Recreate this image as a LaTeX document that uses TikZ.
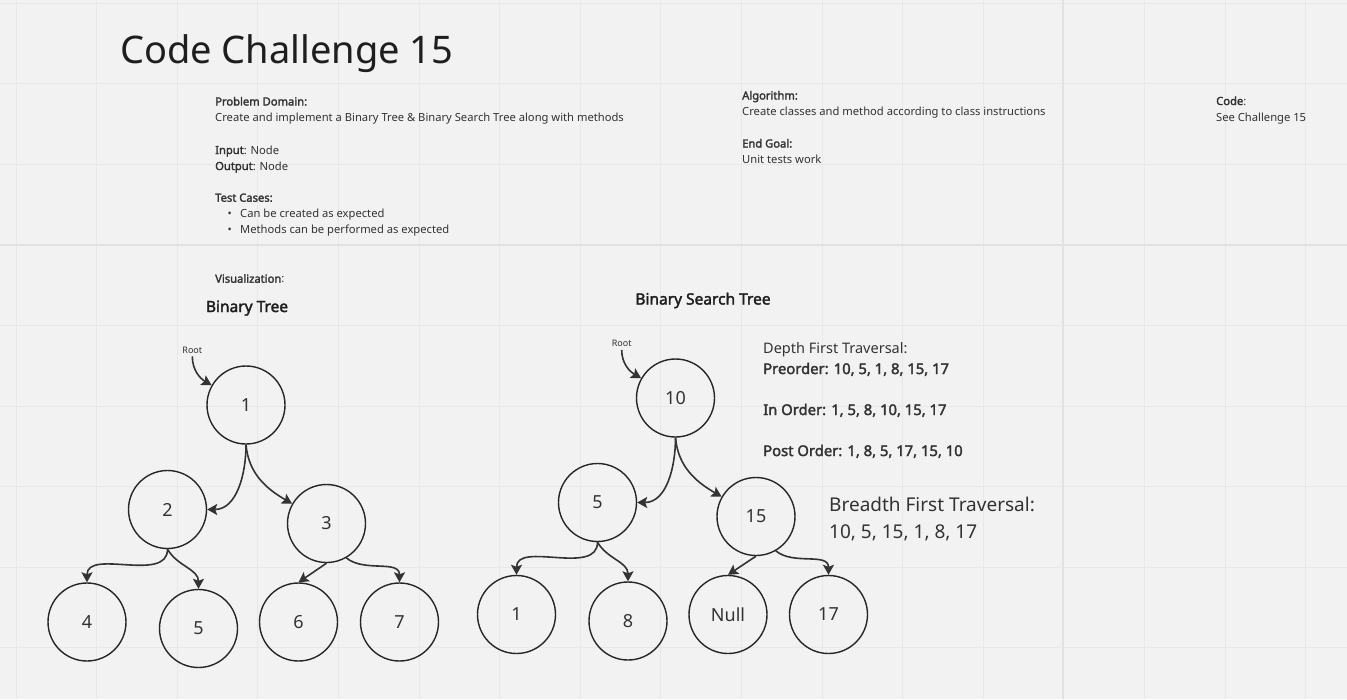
\documentclass[tikz,border=0pt]{standalone}
\usepackage{fontspec}
\setmainfont{Noto Sans}[AutoFakeBold=2.2]
\usetikzlibrary{arrows.meta}

\definecolor{boardbg}{HTML}{F2F2F2}
\definecolor{gridline}{HTML}{E8E8E8}
\definecolor{gridmajor}{HTML}{E2E2E2}
\definecolor{ink}{HTML}{333333}
\definecolor{titleink}{HTML}{1E1E1E}

\begin{document}
\begin{tikzpicture}[x=1pt, y=1pt,
    note/.style={anchor=base west, inner sep=0pt, text=ink, font=\fontsize{11.2}{13}\selectfont},
    trav/.style={note, font=\fontsize{14.5}{17}\selectfont},
    travbold/.style={note, font=\fontsize{14.8}{17}\selectfont\bfseries},
    treenode/.style={circle, draw=black!85, line width=1.4pt, minimum size=78pt, inner sep=0pt, text=ink, font=\fontsize{18}{21}\selectfont},
    rootlabel/.style={anchor=base, inner sep=3pt, text=ink, font=\fontsize{9}{11}\selectfont},
    treetitle/.style={anchor=base, inner sep=0pt, text=titleink, font=\fontsize{15.5}{18}\selectfont\bfseries},
    link/.style={draw=ink, line width=1.6pt, -{Stealth[length=10pt, width=11pt, inset=2pt]}}]
    % board and grid
    \fill[boardbg] (0,0) rectangle (1347,-699);
    \useasboundingbox (0,0) rectangle (1347,-699);
    \foreach \gx in {0,...,16}
      \draw[gridline, line width=1pt] ({16+80.6*\gx},0) -- ++(0,-699);
    \foreach \gy in {0,...,8}
      \draw[gridline, line width=1pt] (0,{-3-80.6*\gy}) -- ++(1347,0);
    \draw[gridmajor, line width=1.6pt] (1063,0) -- ++(0,-699);
    \draw[gridmajor, line width=1.6pt] (0,-245) -- ++(1347,0);

    \node[note, font=\fontsize{38}{44}\selectfont, text=titleink] (title) at (120,-63.3) {Code Challenge 15};

    % problem column
    \node[note] (pdhead) at (215,-105.5) {\textbf{Problem Domain:}};
    \node[note] (pdtext) at (215,-121.5) {Create and implement a Binary Tree \& Binary Search Tree along with methods};
    \node[note] (input) at (215,-154) {\textbf{Input}: Node};
    \node[note] (output) at (215,-170) {\textbf{Output}: Node};
    \node[note] (tchead) at (215,-201.7) {\textbf{Test Cases:}};
    \node[note] (tcone) at (227.5,-217.3) {\makebox[12.5pt][l]{\textbullet}Can be created as expected};
    \node[note] (tctwo) at (227.5,-233.7) {\makebox[12.5pt][l]{\textbullet}Methods can be performed as expected};
    \node[note] (vis) at (215,-282.7) {\textbf{Visualization}:};

    % algorithm and code columns
    \node[note] (alghead) at (742,-99.5) {\textbf{Algorithm:}};
    \node[note] (algtext) at (742,-115) {Create classes and method according to class instructions};
    \node[note] (goalhead) at (742,-147.5) {\textbf{End Goal:}};
    \node[note] (goaltext) at (742,-163) {Unit tests work};
    \node[note] (codehead) at (1216,-105) {\textbf{Code}:};
    \node[note] (codetext) at (1216,-121) {See Challenge 15};

    % binary tree
    \node[treetitle] (bttitle) at (247,-312) {Binary Tree};
    \node[rootlabel] (broot) at (192.3,-353) {Root};
    \node[treenode] (b1) at (246,-405) {1};
    \node[treenode] (b2) at (167.5,-509.5) {2};
    \node[treenode] (b3) at (326.5,-523.5) {3};
    \node[treenode] (b4) at (87,-622) {4};
    \node[treenode] (b5) at (198.5,-628.5) {5};
    \node[treenode] (b6) at (298.5,-622) {6};
    \node[treenode] (b7) at (399.5,-622) {7};
    \draw[link] (broot.south) to[out=-90, in=150] (b1.150);
    \draw[link] (b1.south) to[out=-90, in=0] (b2.east);
    \draw[link] (b1.south) to[out=-85, in=150] (b3.150);
    \draw[link] (b2.south) to[out=-90, in=90] (b4.north);
    \draw[link] (b2.south) to[out=-60, in=90] (b5.north);
    \draw[link] (b3.south) -- (b6.north);
    \draw[link] (b3.-60) to[out=-40, in=90] (b7.north);

    % binary search tree
    \node[treetitle] (bsttitle) at (703,-304.5) {Binary Search Tree};
    \node[rootlabel] (sroot) at (621.7,-346.7) {Root};
    \node[treenode] (s10) at (675.5,-398) {10};
    \node[treenode] (s5) at (597.5,-502.5) {5};
    \node[treenode] (s15) at (756,-516.5) {15};
    \node[treenode] (s1) at (516.5,-614.5) {1};
    \node[treenode] (s8) at (628,-621) {8};
    \node[treenode] (snull) at (728,-614.5) {Null};
    \node[treenode] (s17) at (828.5,-614.5) {17};
    \draw[link] (sroot.south) to[out=-90, in=150] (s10.150);
    \draw[link] (s10.south) to[out=-90, in=0] (s5.east);
    \draw[link] (s10.south) to[out=-85, in=150] (s15.150);
    \draw[link] (s5.south) to[out=-90, in=90] (s1.north);
    \draw[link] (s5.south) to[out=-60, in=90] (s8.north);
    \draw[link] (s15.south) -- (snull.north);
    \draw[link] (s15.-60) to[out=-40, in=90] (s17.north);

    % traversals
    \node[trav] (dfs) at (763,-353.5) {Depth First Traversal:};
    \node[travbold] (pre) at (763,-374) {Preorder: 10, 5, 1, 8, 15, 17};
    \node[travbold] (ino) at (763,-415) {In Order: 1, 5, 8, 10, 15, 17};
    \node[travbold] (post) at (763,-456) {Post Order: 1, 8, 5, 17, 15, 10};
    \node[note, font=\fontsize{19}{22}\selectfont] (bfs) at (829,-511.7) {Breadth First Traversal:};
    \node[note, font=\fontsize{19}{22}\selectfont] (bfsorder) at (829,-538.5) {10, 5, 15, 1, 8, 17};
\end{tikzpicture}
\end{document}
